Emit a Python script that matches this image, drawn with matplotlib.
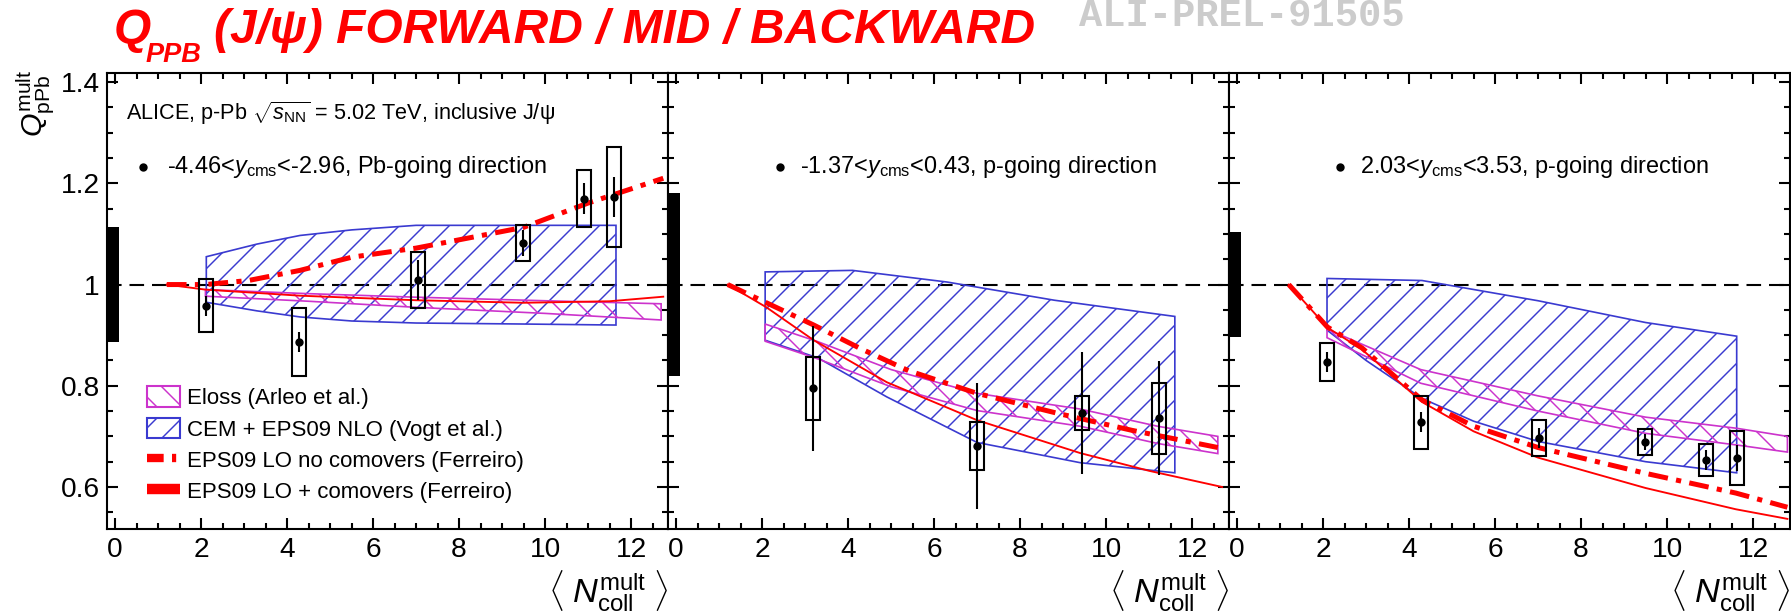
import matplotlib
matplotlib.use("Agg")
import matplotlib.pyplot as plt
from matplotlib.patches import Rectangle, Patch
from matplotlib.lines import Line2D
from matplotlib.ticker import MultipleLocator, FixedLocator, FixedFormatter
import numpy as np

plt.rcParams['font.family'] = ['Liberation Sans', 'DejaVu Sans']
plt.rcParams['mathtext.fontset'] = 'custom'
plt.rcParams['mathtext.rm'] = 'Liberation Sans'
plt.rcParams['mathtext.it'] = 'Liberation Sans:italic'
plt.rcParams['mathtext.bf'] = 'Liberation Sans:bold'
plt.rcParams['hatch.linewidth'] = 0.7
plt.rcParams['lines.scale_dashes'] = False

# ---- datos: -4.46<y<-2.96 (Pb-going)
bwd_x = [2.12, 4.28, 7.04, 9.48, 10.9, 11.6]
bwd_y = [0.958, 0.886, 1.009, 1.082, 1.170, 1.173]
bwd_stat = [0.02, 0.02, 0.04, 0.025, 0.03, 0.04]
bwd_syst = [0.052, 0.067, 0.056, 0.036, 0.057, 0.098]
bwd_norm = 0.113

bwd_cem_xu = [2.12, 3.3, 4.3, 5.5, 7.0, 9.5, 11.65]
bwd_cem_up = [1.055, 1.08, 1.097, 1.108, 1.117, 1.117, 1.117]
bwd_cem_xl = [2.12, 3.3, 4.3, 5.5, 7.0, 9.5, 11.65]
bwd_cem_lo = [0.965, 0.948, 0.936, 0.928, 0.924, 0.922, 0.92]

bwd_eloss_x = [2.1, 4.5, 7.0, 10.0, 12.7]
bwd_eloss_up = [0.99, 0.982, 0.975, 0.968, 0.962]
bwd_eloss_lo = [0.977, 0.967, 0.955, 0.943, 0.93]

bwd_nocom_x = [1.2, 2.1, 3.1, 4.3, 5.5, 7.0, 9.5, 11.0, 12.75]
bwd_nocom_y = [1.0, 1.0, 1.008, 1.028, 1.054, 1.072, 1.113, 1.161, 1.21]
bwd_com_x = [1.2, 2.1, 4.3, 7.0, 9.5, 11.5, 12.75]
bwd_com_y = [1.0, 0.99, 0.978, 0.969, 0.964, 0.967, 0.976]

# ---- datos: -1.37<y<0.43
mid_x = [3.19, 7.0, 9.44, 11.24]
mid_y = [0.795, 0.681, 0.746, 0.736]
mid_stat = [0.123, 0.125, 0.12, 0.113]
mid_syst = [0.062, 0.048, 0.033, 0.07]
mid_norm = 0.18

mid_cem_xu = [2.07, 4.1, 6.3, 8.8, 11.6]
mid_cem_up = [1.025, 1.028, 1.005, 0.969, 0.937]
mid_cem_xl = [2.07, 3.3, 4.9, 7.0, 9.4, 11.6]
mid_cem_lo = [0.89, 0.855, 0.778, 0.688, 0.648, 0.628]

mid_eloss_x = [2.07, 3.3, 5.0, 7.0, 9.4, 11.2, 12.6]
mid_eloss_up = [0.922, 0.887, 0.832, 0.785, 0.754, 0.72, 0.70]
mid_eloss_lo = [0.888, 0.853, 0.798, 0.751, 0.72, 0.686, 0.666]

mid_nocom_x = [1.2, 2.2, 3.2, 4.3, 5.4, 7.0, 8.9, 10.6, 12.6]
mid_nocom_y = [1.0, 0.96, 0.92, 0.873, 0.83, 0.785, 0.745, 0.712, 0.678]
mid_com_x = [1.2, 2.1, 3.2, 4.9, 7.0, 9.4, 11.0, 12.7]
mid_com_y = [1.0, 0.955, 0.89, 0.807, 0.732, 0.667, 0.632, 0.60]

# ---- datos: 2.03<y<3.53
fwd_x = [2.09, 4.27, 7.03, 9.49, 10.9, 11.62]
fwd_y = [0.847, 0.728, 0.697, 0.689, 0.653, 0.657]
fwd_stat = [0.02, 0.02, 0.02, 0.015, 0.02, 0.025]
fwd_syst = [0.038, 0.052, 0.035, 0.025, 0.031, 0.054]
fwd_norm = 0.104

fwd_cem_xu = [2.09, 4.3, 7.0, 9.5, 11.62]
fwd_cem_up = [1.012, 1.008, 0.968, 0.925, 0.898]
fwd_cem_xl = [2.09, 3.0, 4.3, 5.5, 7.0, 9.5, 11.62]
fwd_cem_lo = [0.91, 0.85, 0.775, 0.73, 0.69, 0.65, 0.628]

fwd_eloss_x = [2.09, 4.27, 7.0, 9.5, 11.62, 12.8]
fwd_eloss_up = [0.912, 0.832, 0.78, 0.738, 0.716, 0.70]
fwd_eloss_lo = [0.895, 0.805, 0.75, 0.706, 0.683, 0.669]

fwd_nocom_x = [1.2, 2.1, 2.9, 4.3, 5.5, 7.0, 9.5, 11.6, 12.8]
fwd_nocom_y = [1.0, 0.916, 0.875, 0.772, 0.72, 0.678, 0.627, 0.588, 0.56]
fwd_com_x = [1.2, 2.1, 2.9, 4.3, 5.5, 7.0, 9.5, 11.6, 12.8]
fwd_com_y = [1.0, 0.915, 0.872, 0.768, 0.71, 0.658, 0.598, 0.556, 0.537]

rap_labels = ["-4.46<$y_{\\rm cms}$<-2.96, Pb-going direction",
              "-1.37<$y_{\\rm cms}$<0.43, p-going direction",
              "2.03<$y_{\\rm cms}$<3.53, p-going direction"]

leg_labels = ["Eloss (Arleo et al.)", "CEM + EPS09 NLO (Vogt et al.)",
              "EPS09 LO no comovers (Ferreiro)", "EPS09 LO + comovers (Ferreiro)"]

ytick_vals = [0.6, 0.8, 1.0, 1.2, 1.4]
ytick_txt = ["0.6", "0.8", "1", "1.2", "1.4"]

paneles = [
    (bwd_x, bwd_y, bwd_stat, bwd_syst, bwd_norm, bwd_cem_xu, bwd_cem_up, bwd_cem_xl, bwd_cem_lo,
     bwd_eloss_x, bwd_eloss_up, bwd_eloss_lo, bwd_nocom_x, bwd_nocom_y, bwd_com_x, bwd_com_y),
    (mid_x, mid_y, mid_stat, mid_syst, mid_norm, mid_cem_xu, mid_cem_up, mid_cem_xl, mid_cem_lo,
     mid_eloss_x, mid_eloss_up, mid_eloss_lo, mid_nocom_x, mid_nocom_y, mid_com_x, mid_com_y),
    (fwd_x, fwd_y, fwd_stat, fwd_syst, fwd_norm, fwd_cem_xu, fwd_cem_up, fwd_cem_xl, fwd_cem_lo,
     fwd_eloss_x, fwd_eloss_up, fwd_eloss_lo, fwd_nocom_x, fwd_nocom_y, fwd_com_x, fwd_com_y),
]

azul = '#3a3ad0'
magenta = '#cc33cc'
rojo = '#ff0000'
W, H = 1791, 613
DPI = 150

fig = plt.figure(figsize=(W / DPI, H / DPI), dpi=DPI)

ax_left = [107, 668, 1229]
ax_w = 561
ax_bot = 613 - 529
ax_h = 456
dashdot = (9.5, 4, 2.5, 4)

ejes = []
for i, p in enumerate(paneles):
    (px, py, pstat, psyst, pnorm, cxu, cup, cxl, clo, ex, eup, elo, nx, ny, cx, cy) = p
    ax = fig.add_axes([ax_left[i] / W, ax_bot / H, ax_w / W, ax_h / H])
    ejes.append(ax)
    ax.set_xlim(-0.19, 12.86)
    ax.set_ylim(0.517, 1.418)

    # banda de normalizacion
    ax.add_patch(Rectangle((-0.19, 1 - pnorm), 0.28, 2 * pnorm, facecolor='k',
                           edgecolor='none', zorder=6))
    ax.axhline(1.0, color='k', lw=1.0, dashes=(7, 3.8), zorder=2)

    # CEM + EPS09 NLO
    ax.fill(list(cxu) + list(cxl)[::-1], list(cup) + list(clo)[::-1], facecolor='none',
            edgecolor=azul, hatch='//', lw=0.8, zorder=3)
    # Eloss
    ax.fill(list(ex) + list(ex)[::-1], list(eup) + list(elo)[::-1], facecolor='none',
            edgecolor=magenta, hatch='\\\\', lw=0.8, zorder=3)

    ax.plot(nx, ny, color=rojo, lw=2.4, dashes=dashdot, zorder=4)
    ax.plot(cx, cy, color=rojo, lw=0.9, zorder=4)

    for xx, yy, ss in zip(px, py, psyst):
        ax.add_patch(Rectangle((xx - 0.16, yy - ss), 0.32, 2 * ss, facecolor='none',
                               edgecolor='k', lw=1.0, zorder=7))
    ax.errorbar(px, py, yerr=pstat, fmt='o', color='k', ms=3, elinewidth=1.0,
                capsize=0, zorder=8)

    # ejes
    ax.xaxis.set_major_locator(MultipleLocator(2))
    ax.xaxis.set_minor_locator(MultipleLocator(0.5))
    ax.yaxis.set_major_locator(FixedLocator(ytick_vals))
    ax.yaxis.set_major_formatter(FixedFormatter(ytick_txt))
    ax.yaxis.set_minor_locator(MultipleLocator(0.05))
    ax.tick_params(which='both', direction='in', top=True, right=True, width=1.0,
                   labelsize=13.5)
    ax.tick_params(which='major', length=5.3)
    ax.tick_params(which='minor', length=2.8)
    ax.tick_params(axis='x', pad=4)
    ax.tick_params(axis='y', pad=3.4)
    if i > 0:
        ax.tick_params(labelleft=False)
    for sp in ax.spines.values():
        sp.set_linewidth(1.0)

    ax.text(1.0, -0.135, r"$\langle\;N_{\rm coll}^{\rm mult}\;\rangle$", transform=ax.transAxes,
            ha='right', va='center', fontsize=16.5)

# textos de cada panel
bul_pos = [(0.064, 0.107), (0.200, 0.235), (0.198, 0.234)]
for ax, lab, (bx, tx) in zip(ejes, rap_labels, bul_pos):
    ax.plot([bx], [0.794], 'o', color='k', ms=3, transform=ax.transAxes, clip_on=False)
    ax.text(tx, 0.794, lab, transform=ax.transAxes, ha='left', va='center', fontsize=11.3)

ejes[0].text(0.034, 0.912, r"ALICE, p-Pb $\sqrt{s_{\rm NN}}$ = 5.02 TeV, inclusive J/ψ",
             transform=ejes[0].transAxes, ha='left', va='center', fontsize=10.4)

handles = [Patch(facecolor='none', edgecolor=magenta, hatch='\\\\', lw=1.0),
           Patch(facecolor='none', edgecolor=azul, hatch='//', lw=1.0),
           Line2D([], [], color=rojo, lw=4, dashes=(8, 4, 2, 4), dash_capstyle='butt'),
           Line2D([], [], color=rojo, lw=5, solid_capstyle='butt')]
ejes[0].legend(handles, leg_labels, loc='lower left', bbox_to_anchor=(0.071, 0.056),
               frameon=False, fontsize=10.7, handlelength=1.5, handleheight=1.05,
               handletextpad=0.3, labelspacing=0.38, borderpad=0, borderaxespad=0)

# eje y
fig.text(36 / W, 1 - 70 / H, r"$Q_{\rm pPb}^{\rm mult}$", rotation=90, ha='center', va='top',
         fontsize=14.5)

# titulo
fig.text(114 / W, 1 - 43 / H, "Q", color=rojo, fontsize=23, fontweight='bold',
         style='italic', ha='left', va='baseline')
fig.text(146 / W, 1 - 62 / H, "PPB", color=rojo, fontsize=13, fontweight='bold',
         style='italic', ha='left', va='baseline')
fig.text(214 / W, 1 - 43 / H, "(J/ψ) FORWARD / MID / BACKWARD", color=rojo, fontsize=23,
         fontweight='bold', style='italic', ha='left', va='baseline')

fig.text(1079 / W, 1 - 26 / H, "ALI-PREL-91505", family='Liberation Mono', fontweight='bold',
         fontsize=18.6, color='#cccccc', ha='left', va='baseline')

fig.savefig("out.png", dpi=DPI)
